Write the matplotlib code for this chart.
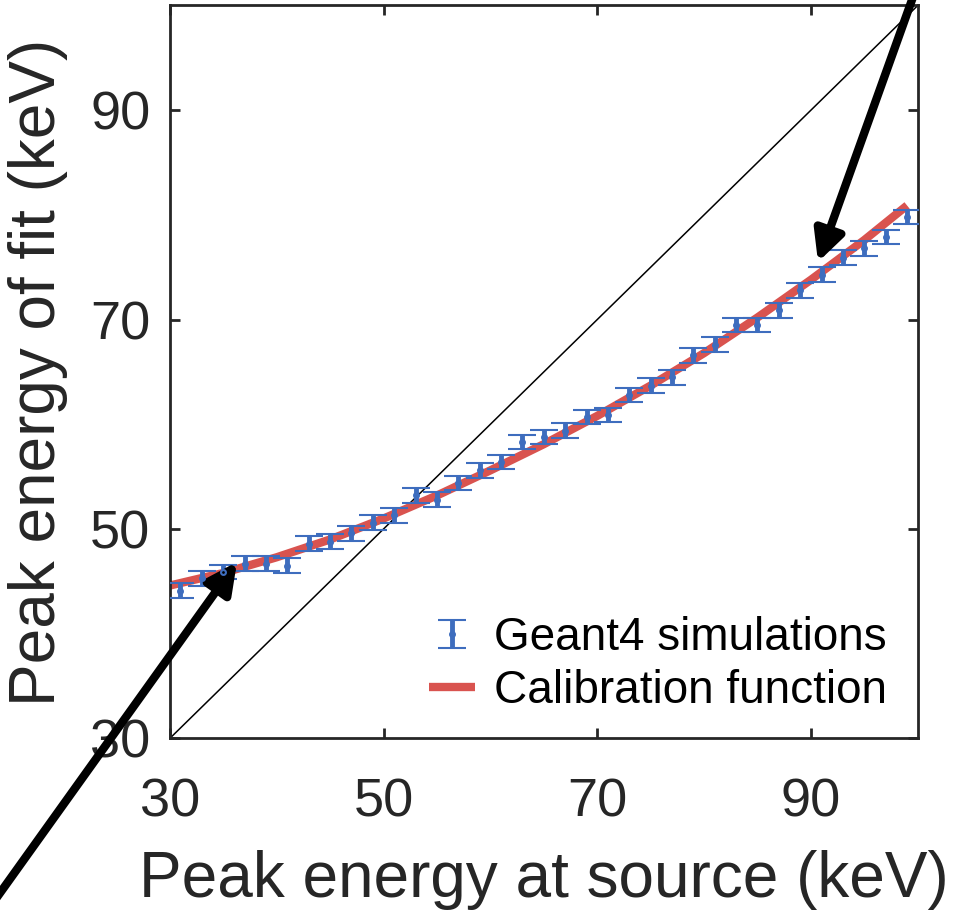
import numpy as np
import matplotlib
matplotlib.use('Agg')
import matplotlib.pyplot as plt
from matplotlib.legend_handler import HandlerErrorbar
from matplotlib.container import ErrorbarContainer

plt.rcParams['font.family'] = ['Liberation Sans', 'DejaVu Sans']

# geant4 simulated peaks
src_energy = [31, 33, 35, 37, 39, 41, 43, 45, 47, 49, 51, 53, 55, 57, 59, 61, 63, 65,
              67, 69, 71, 73, 75, 77, 79, 81, 83, 85, 87, 89, 91, 93, 95, 97, 99]
fit_energy = [44.1, 45.3, 45.9, 46.7, 46.7, 46.5, 48.6, 48.8, 49.6, 50.6, 51.3, 53.2,
              52.8, 54.4, 55.6, 56.4, 58.3, 58.8, 59.4, 60.7, 60.9, 62.8, 63.7, 64.5,
              66.6, 67.6, 69.5, 69.5, 70.9, 72.8, 74.3, 75.9, 76.8, 77.9, 79.8]
fit_err = [0.7] * len(src_energy)

# calibration curve samples
cal_x = [30, 35, 40, 45, 50, 55, 60, 65, 70, 75, 80, 85, 90, 95, 99]
cal_y = [44.6, 45.8, 47.3, 49.0, 51.0, 53.2, 55.6, 58.1, 60.8, 63.7, 66.8, 70.2, 73.8, 77.6, 80.9]

ticks = [30, 50, 70, 90]

blue = '#3E6DBE'
red = '#D9534F'
dark = '#262626'

fig = plt.figure(figsize=(9.54, 9.15), dpi=100)
ax = fig.add_axes([0.178, 0.193, 0.784, 0.801])

ax.plot([30, 100], [30, 100], color='black', lw=1.1, zorder=1)
ax.plot(cal_x, cal_y, color=red, lw=6, solid_capstyle='butt', zorder=2,
        label='Calibration function')
ax.errorbar(src_energy, fit_energy, yerr=fit_err, fmt='o', ms=3.5, mfc='none',
            mec=blue, mew=1.5, color=blue, ecolor=blue, elinewidth=3.5,
            capsize=10, capthick=5, zorder=3, label='Geant4 simulations')

ax.set_xlim(30, 100)
ax.set_ylim(30, 100)
ax.set_xticks(ticks)
ax.set_yticks(ticks)
ax.tick_params(direction='in', length=7, width=2, top=True, right=True,
               labelsize=39, colors=dark)
ax.tick_params(axis='x', pad=28)
ax.tick_params(axis='y', pad=14)
for s in ax.spines.values():
    s.set_linewidth(2)
    s.set_color(dark)

ax.set_xlabel('Peak energy at source (keV)', fontsize=46, color=dark, labelpad=16)
ax.set_ylabel('Peak energy of fit (keV)', fontsize=46, color=dark, labelpad=16)

h, l = ax.get_legend_handles_labels()
leg = ax.legend(h[::-1], l[::-1], loc='lower right', fontsize=33, frameon=False,
                handlelength=1.0, handletextpad=0.4, borderaxespad=0.2,
                labelspacing=0.2, bbox_to_anchor=(0.995, -0.003),
                handler_map={ErrorbarContainer: HandlerErrorbar(yerr_size=0.3)})

# pointer arrows
ax.annotate('', xy=(237, 353), xycoords='figure pixels', xytext=(-5, 15),
            textcoords='figure pixels', annotation_clip=False,
            arrowprops=dict(arrowstyle='-|>', color='black', lw=6, mutation_scale=45,
                            shrinkA=0, shrinkB=0))
ax.annotate('', xy=(818, 653), xycoords='figure pixels', xytext=(913, 918),
            textcoords='figure pixels', annotation_clip=False,
            arrowprops=dict(arrowstyle='-|>', color='black', lw=6, mutation_scale=45,
                            shrinkA=0, shrinkB=0))

plt.savefig('out.png', dpi=100)
plt.close()
